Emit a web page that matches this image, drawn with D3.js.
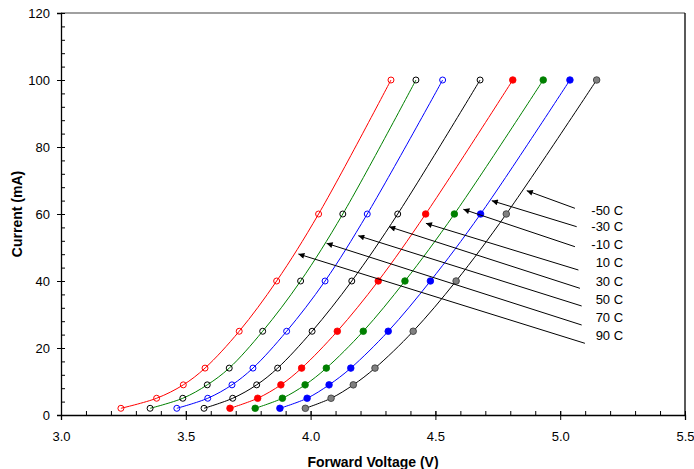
<!DOCTYPE html>
<html>
<head>
<meta charset="utf-8">
<script src="https://cdn.jsdelivr.net/npm/d3@7"></script>
<style>
  body { margin: 0; background: #fff; }
  svg { font-family: "Liberation Sans", Arial, sans-serif; }
</style>
</head>
<body>
<div id="chart"></div>
<script>
// currents measured at each point (mA)
let currents = [2, 5, 9, 14, 25, 40, 60, 100];

// forward voltage per temperature (V)
let temps = ["90 C", "70 C", "50 C", "30 C", "10 C", "-10 C", "-30 C", "-50 C"];
let v90  = [3.240, 3.383, 3.490, 3.577, 3.714, 3.864, 4.032, 4.322];
let v70  = [3.357, 3.488, 3.586, 3.674, 3.808, 3.960, 4.129, 4.422];
let v50  = [3.464, 3.588, 3.685, 3.769, 3.904, 4.058, 4.227, 4.529];
let v30  = [3.573, 3.688, 3.784, 3.868, 4.006, 4.165, 4.349, 4.679];
let v10  = [3.677, 3.788, 3.881, 3.964, 4.107, 4.271, 4.461, 4.810];
let vm10 = [3.778, 3.887, 3.978, 4.063, 4.211, 4.378, 4.576, 4.932];
let vm30 = [3.877, 3.986, 4.074, 4.161, 4.311, 4.480, 4.681, 5.039];
let vm50 = [3.979, 4.082, 4.171, 4.258, 4.411, 4.583, 4.784, 5.146];

let xTicks = [3.0, 3.5, 4.0, 4.5, 5.0, 5.5];
let yTicks = [0, 20, 40, 60, 80, 100, 120];

// annotation arrows (label order top to bottom), in data units
let annoLabels = ["-50 C", "-30 C", "-10 C", "10 C", "30 C", "50 C", "70 C", "90 C"];
let annoHeadV  = [4.866, 4.726, 4.612, 4.462, 4.315, 4.191, 4.064, 3.951];
let annoHeadI  = [66.96, 63.97, 61.40, 57.22, 56.21, 53.52, 51.25, 48.06];
let annoTailV  = [5.059, 5.066, 5.059, 5.073, 5.079, 5.086, 5.086, 5.099];
let annoTailI  = [61.70, 56.21, 50.24, 43.28, 37.82, 32.54, 26.87, 21.40];
let annoTextV  = 5.252;
let annoTextI  = [59.70, 54.93, 49.55, 44.27, 38.60, 33.13, 27.67, 22.30];

let series = [
    {name: temps[0], v: v90,  line: "#ff0000", stroke: "#ff0000", fill: "none"},
    {name: temps[1], v: v70,  line: "#008000", stroke: "#000000", fill: "none"},
    {name: temps[2], v: v50,  line: "#0000ff", stroke: "#0000ff", fill: "none"},
    {name: temps[3], v: v30,  line: "#000000", stroke: "#000000", fill: "none"},
    {name: temps[4], v: v10,  line: "#ff0000", stroke: "#ff0000", fill: "#ff0000"},
    {name: temps[5], v: vm10, line: "#008000", stroke: "#008000", fill: "#008000"},
    {name: temps[6], v: vm30, line: "#0000ff", stroke: "#0000ff", fill: "#0000ff"},
    {name: temps[7], v: vm50, line: "#000000", stroke: "#333333", fill: "#808080"}
];

let margin = {top: 13, right: 9, bottom: 54, left: 61},
    width = 694 - margin.left - margin.right,
    height = 469 - margin.top - margin.bottom;

let svg = d3.select("#chart").append("svg")
    .attr("width", 694)
    .attr("height", 469)
    .append("g")
    .attr("transform", "translate(" + margin.left + "," + margin.top + ")");

let x = d3.scaleLinear().domain([3.0, 5.5]).range([0, width]);
let y = d3.scaleLinear().domain([0, 120]).range([height, 0]);

// frame: grey top, black right
svg.append("line")
    .attr("x1", 0).attr("x2", width).attr("y1", 0).attr("y2", 0)
    .attr("stroke", "#808080").attr("stroke-width", 1.5);
svg.append("line")
    .attr("x1", width).attr("x2", width).attr("y1", 0).attr("y2", height)
    .attr("stroke", "#000").attr("stroke-width", 1.3);

// minor ticks (inside)
svg.append("g")
    .attr("transform", "translate(0," + height + ")")
    .call(d3.axisTop(x).tickValues(d3.range(30, 56).map(d => d / 10)).tickSize(4).tickFormat(""))
    .call(g => g.select(".domain").remove());
svg.append("g")
    .call(d3.axisRight(y).tickValues(d3.range(0, 121, 4)).tickSize(4).tickFormat(""))
    .call(g => g.select(".domain").remove());

// major axes
let xAxis = svg.append("g")
    .attr("transform", "translate(0," + height + ")")
    .call(d3.axisBottom(x).tickValues(xTicks).tickSize(5).tickPadding(12).tickFormat(d3.format(".1f")));
let yAxis = svg.append("g")
    .call(d3.axisLeft(y).tickValues(yTicks).tickSize(4).tickPadding(7).tickFormat(d3.format("d")));

[xAxis, yAxis].forEach(function (g) {
    g.select(".domain").attr("stroke-width", 1.3);
    g.selectAll(".tick text").attr("font-size", 13).attr("fill", "#000")
        .attr("font-family", "'Liberation Sans', Arial, sans-serif");
});
// major ticks cross the axis
xAxis.selectAll(".tick line").attr("y1", -4);
yAxis.selectAll(".tick line").attr("x1", 4);

svg.append("text")
    .attr("x", width / 2)
    .attr("y", height + 52)
    .attr("text-anchor", "middle")
    .attr("font-size", 14)
    .attr("font-weight", "bold")
    .text("Forward Voltage (V)");

svg.append("text")
    .attr("transform", "translate(" + (-39) + "," + (height / 2) + ") rotate(-90)")
    .attr("text-anchor", "middle")
    .attr("font-size", 14)
    .attr("font-weight", "bold")
    .text("Current (mA)");

let line = d3.line()
    .x(d => x(d[0]))
    .y(d => y(d[1]))
    .curve(d3.curveCatmullRom.alpha(0.5));

series.forEach(function (s) {
    let pts = s.v.map((v, i) => [v, currents[i]]);
    svg.append("path")
        .datum(pts)
        .attr("fill", "none")
        .attr("stroke", s.line)
        .attr("stroke-width", 1)
        .attr("d", line);
});

series.forEach(function (s) {
    let pts = s.v.map((v, i) => [v, currents[i]]);
    svg.selectAll(null)
        .data(pts)
        .enter().append("circle")
        .attr("cx", d => x(d[0]))
        .attr("cy", d => y(d[1]))
        .attr("r", s.fill === "none" ? 3 : 3.3)
        .attr("fill", s.fill)
        .attr("stroke", s.stroke)
        .attr("stroke-width", s.fill === "none" ? 1 : 0.8);
});

// arrow annotations
svg.append("defs").append("marker")
    .attr("id", "arrow")
    .attr("viewBox", "0 0 10 10")
    .attr("refX", 10).attr("refY", 5)
    .attr("markerWidth", 9).attr("markerHeight", 6)
    .attr("markerUnits", "userSpaceOnUse")
    .attr("orient", "auto")
    .append("path")
    .attr("d", "M0,0L10,5L0,10z")
    .attr("fill", "#000");

annoLabels.forEach(function (lab, i) {
    svg.append("line")
        .attr("x1", x(annoTailV[i])).attr("y1", y(annoTailI[i]))
        .attr("x2", x(annoHeadV[i])).attr("y2", y(annoHeadI[i]))
        .attr("stroke", "#000")
        .attr("stroke-width", 1)
        .attr("marker-end", "url(#arrow)");
    svg.append("text")
        .attr("x", x(annoTextV))
        .attr("y", y(annoTextI[i]))
        .attr("text-anchor", "end")
        .attr("font-size", 13)
        .text(lab);
});
</script>
</body>
</html>
